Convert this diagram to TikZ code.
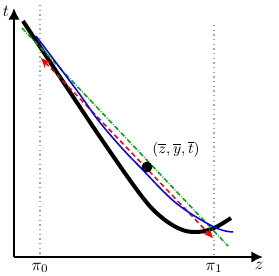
\documentclass[tikz,border=0pt]{standalone}
\usetikzlibrary{arrows.meta}
\begin{document}
\begin{tikzpicture}[x=0.6pt,y=-0.6pt,
  axis/.style={line width=1.6pt,-{Latex[length=7pt,width=7pt]}},
  guide/.style={gray!70,dotted,line width=0.8pt},
  curve/.style={line width=2.4pt,black},
  lbl/.style={inner sep=0pt}]
\useasboundingbox (0,0) rectangle (279,275);
\coordinate (O) at (14,257);
\coordinate (Ytip) at (14,8);
\coordinate (Xtip) at (263,257);
\coordinate (p0t) at (40,5);
\coordinate (p0b) at (40,257);
\coordinate (p1t) at (214,25);
\coordinate (p1b) at (214,257);
\draw[guide] (p0t) -- (p0b);
\draw[guide] (p1t) -- (p1b);
\draw[axis] (O) -- (Ytip);
\draw[axis] (O) -- (Xtip);
\node[lbl] (t) at (6,11) {$t$};
\node[lbl] (z) at (259,266) {$z$};
\node[lbl] (pi0) at (40,268) {$\pi_0$};
\node[lbl] (pi1) at (214,268) {$\pi_1$};
% black curve
\draw[curve] plot[smooth,tension=0.6] coordinates {(23,21) (60,77) (100,137) (140,194) (160,216) (180,229) (197,232) (214,228) (231,218)};
% green dash-dot
\coordinate (g1) at (22,28);
\coordinate (g2) at (228,246);
\draw[green!65!black,densely dashdotted,line width=0.9pt] (g1) -- (g2);
% red dashed with arrows
\coordinate (r1) at (41,58);
\coordinate (r2) at (213,238);
\draw[red,densely dashed,line width=0.9pt,{Stealth[length=6pt,width=5pt]}-{Stealth[length=6pt,width=5pt]}] (r1) -- (r2);
% blue curve
\draw[blue,line width=0.9pt] plot[smooth,tension=0.6] coordinates {(36,36) (78,92) (98,120) (120,146) (140,167) (176,203) (214,227) (233,232)};
% point
\node[circle,fill=black,inner sep=0pt,minimum size=6.5pt] (pt) at (147,167) {};
\node[lbl,font=\small] (ptl) at (176,149) {$(\overline{z},\overline{y},\overline{t})$};
\end{tikzpicture}
\end{document}
